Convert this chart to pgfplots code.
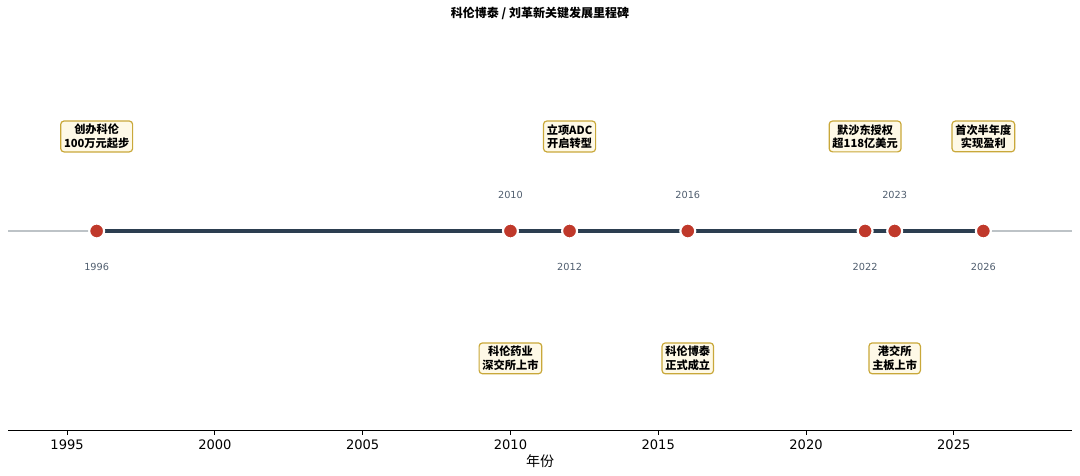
\documentclass[border=0pt]{standalone}
\usepackage{pgfplots}
\pgfplotsset{compat=1.18}
\usepackage{pgfplotstable}
\usepackage{fontspec}
\setmainfont{DejaVu Sans}
\newfontfamily\cjk{Noto Sans CJK SC}

\definecolor{lineDark}{HTML}{2C3E50}
\definecolor{dotRed}{HTML}{C0392B}
\definecolor{baseGrey}{HTML}{BDC3C7}
\definecolor{boxFill}{HTML}{FEF9E7}
\definecolor{boxEdge}{HTML}{C9A83A}
\definecolor{yearGrey}{HTML}{4F5D6E}

% year, box height, year-label height, note
\pgfplotstableread{
year ybox  yyear note
1996 0.475  -0.18 {创办科伦\\100万元起步}
2010 -0.64 0.18  {科伦药业\\深交所上市}
2012 0.475  -0.18 {立项ADC\\开启转型}
2016 -0.64 0.18  {科伦博泰\\正式成立}
2022 0.475  -0.18 {默沙东授权\\超118亿美元}
2023 -0.64 0.18  {港交所\\主板上市}
2026 0.475  -0.18 {首次半年度\\实现盈利}
}\events

\begin{document}
\begin{tikzpicture}
\useasboundingbox (0,0) rectangle (810pt,356.25pt);
\begin{axis}[
    at={(6pt,33.75pt)}, anchor=south west,
    scale only axis,
    width=798pt, height=301.5pt,
    xmin=1993, xmax=2029,
    ymin=-1, ymax=1.02,
    clip=false,
    axis x line=bottom,
    axis y line=none,
    x axis line style={-, line width=0.6pt},
    xtick={1995,2000,...,2025},
    x tick label style={/pgf/number format/1000 sep={}, font=\fontsize{9.8}{11}\selectfont},
    /pgf/number format/assume math mode=true,
    tick align=outside,
    major tick length=3.5pt,
    xtick style={black, line width=0.6pt},
    xlabel={\cjk 年份},
    xlabel style={font=\fontsize{10.5}{12}\selectfont, yshift=3pt},
    title={\cjk\bfseries 科伦博泰 / 刘革新关键发展里程碑},
    title style={font=\fontsize{9}{10}\selectfont, at={(0.5,1)}, anchor=south, yshift=-3pt},
]
% grey base line across the whole axis
\addplot[baseGrey, line width=1.2pt] coordinates {(1993,0) (2029,0)};
% dark timeline
\addplot[lineDark, line width=2.3pt] table[x=year, y expr=0] {\events};
% milestone dots
\addplot[only marks, mark=*, mark size=5.6pt,
    mark options={fill=dotRed, draw=white, line width=1.6pt}]
    table[x=year, y expr=0] {\events};
% notes
\addplot[only marks, mark=none,
    point meta=explicit symbolic,
    nodes near coords={\pgfplotspointmeta},
    every node near coord/.append style={anchor=center, align=center,
        font=\cjk\bfseries\fontsize{8.4}{10}\selectfont,
        fill=boxFill, draw=boxEdge, line width=0.9pt, rounded corners=2.5pt,
        inner xsep=2.5pt, inner ysep=2.5pt, text=black}]
    table[x=year, y=ybox, meta=note] {\events};
% year labels
\addplot[only marks, mark=none,
    nodes near coords={\pgfmathprintnumber[1000 sep={}, int detect]{\pgfplotspointmeta}},
    point meta=x,
    every node near coord/.append style={anchor=center,
        font=\fontsize{7.3}{8}\selectfont, text=yearGrey}]
    table[x=year, y=yyear] {\events};
\end{axis}
\end{tikzpicture}
\end{document}
